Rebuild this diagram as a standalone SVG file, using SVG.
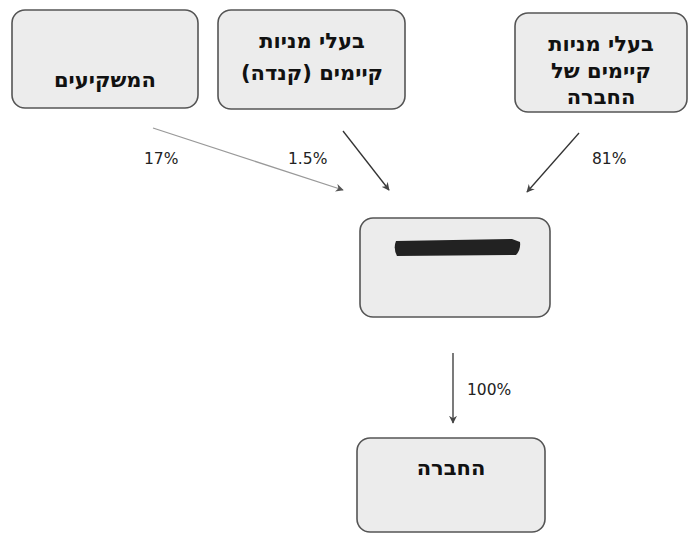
<svg xmlns="http://www.w3.org/2000/svg" width="690" height="533" viewBox="0 0 690 533">
<defs>
<marker id="ah" viewBox="0 0 10 10" refX="9" refY="5" markerWidth="8" markerHeight="8" orient="auto" markerUnits="userSpaceOnUse">
<path d="M0,0 L10,5 L0,10 L3,5 z" fill="#444"/>
</marker>
<marker id="ahg" viewBox="0 0 10 10" refX="9" refY="5" markerWidth="8" markerHeight="8" orient="auto" markerUnits="userSpaceOnUse">
<path d="M0,0 L10,5 L0,10 L3,5 z" fill="#555"/>
</marker>
</defs>
<style>
.box{fill:#ececec;stroke:#555;stroke-width:1.6}
.he{font-family:"DejaVu Sans",sans-serif;font-weight:bold;font-size:21px;fill:#111;text-anchor:middle}
.pct{font-family:"DejaVu Sans",sans-serif;font-size:15.5px;fill:#222}
.ln{stroke:#333;stroke-width:1.3;fill:none}
</style>
<rect width="690" height="533" fill="#fff"/>
<g id="investors">
<rect class="box" x="12" y="10" width="186" height="98" rx="13"/>
<text class="he" x="105" y="87" direction="rtl">המשקיעים</text>
</g>
<g id="canada">
<rect class="box" x="218" y="10" width="187" height="99" rx="13"/>
<text class="he" x="312" y="48" direction="rtl">בעלי מניות</text>
<text class="he" x="312" y="80" direction="rtl">קיימים (קנדה)</text>
</g>
<g id="existing">
<rect class="box" x="515" y="13" width="172" height="99" rx="13"/>
<text class="he" x="601" y="51" direction="rtl">בעלי מניות</text>
<text class="he" x="601" y="78" direction="rtl">קיימים של</text>
<text class="he" x="601" y="104" direction="rtl">החברה</text>
</g>
<g id="middle">
<rect class="box" x="360" y="218" width="190" height="99" rx="13"/>
<path d="M396,241 Q393,248 397,256 L516,255 Q521,250 520,242 L512,239 Z" fill="#222"/>
</g>
<g id="company">
<rect class="box" x="357" y="438" width="188" height="94" rx="13"/>
<text class="he" x="451" y="475" direction="rtl">החברה</text>
</g>
<g id="connectors">
<line x1="153" y1="128" x2="343" y2="190" stroke="#999" stroke-width="1.3" marker-end="url(#ahg)"/>
<line class="ln" x1="343" y1="131" x2="389" y2="190" marker-end="url(#ah)"/>
<line class="ln" x1="579" y1="133" x2="527" y2="192" marker-end="url(#ah)"/>
<line class="ln" x1="453" y1="353" x2="453" y2="423" marker-end="url(#ah)"/>
<text class="pct" x="144" y="164">17%</text>
<text class="pct" x="288" y="164">1.5%</text>
<text class="pct" x="592" y="164">81%</text>
<text class="pct" x="467" y="395">100%</text>
</g>
</svg>
